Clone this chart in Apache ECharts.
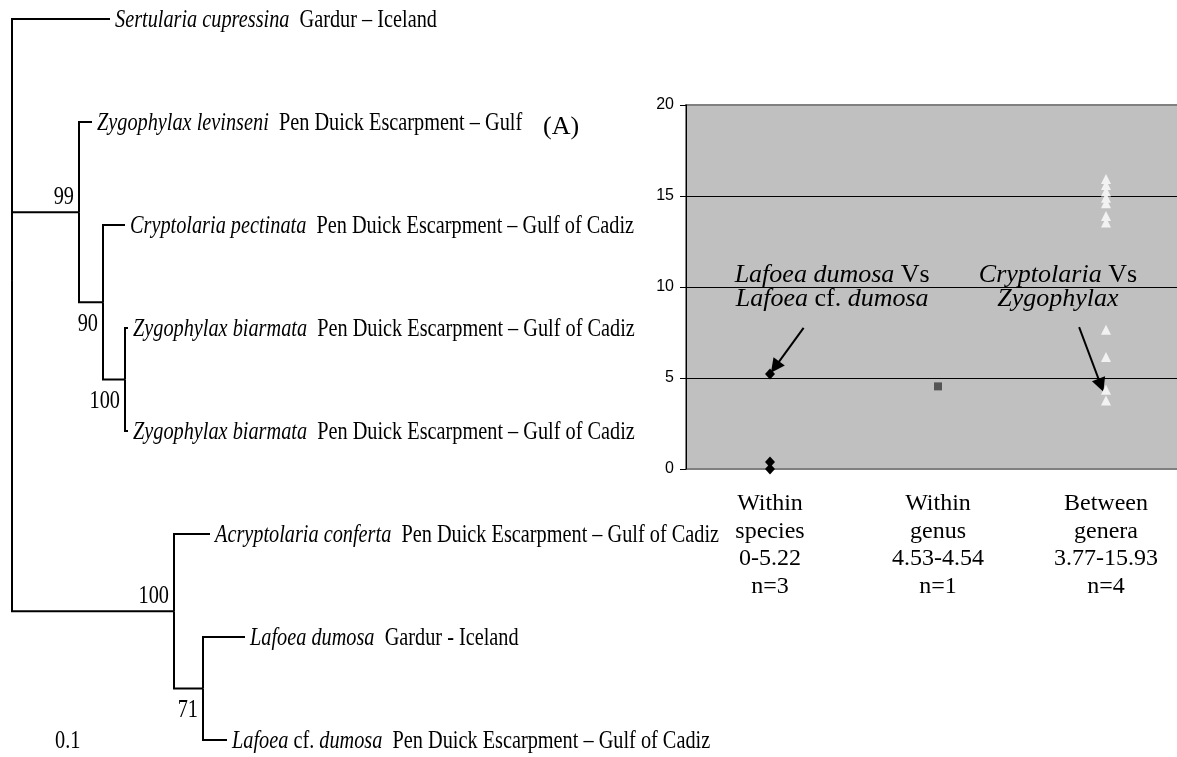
<!DOCTYPE html>
<html><head><meta charset="utf-8">
<script src="https://cdn.jsdelivr.net/npm/echarts@6/dist/echarts.min.js"></script>
<style>html,body{margin:0;padding:0;background:#fff}#c{width:1177px;height:757px}</style>
</head><body><div id="c"></div>
<script>
// ---------------- Tree data ----------------
const nodeIds       = ['root','Sert','n99','Zlev','n90','Cpec','n100a','Zb1','Zb2','n100b','Acon','n71','Ldum','Lcf'];
const nodeParents   = [null,'root','root','n99','n99','n90','n90','n100a','n100a','root','n100b','n100b','n71','n71'];
const branchLengths = [0,0.245,0.1675,0.0325,0.06,0.055,0.055,0.0075,0.0075,0.405,0.09,0.0725,0.105,0.06];
const nodeSpecies   = [null,'Sertularia cupressina',null,'Zygophylax levinseni',null,'Cryptolaria pectinata',null,'Zygophylax biarmata','Zygophylax biarmata',null,'Acryptolaria conferta',null,'Lafoea dumosa','Lafoea cf. dumosa'];
const nodeLocality  = [null,'Gardur – Iceland',null,'Pen Duick Escarpment – Gulf',null,'Pen Duick Escarpment – Gulf of Cadiz',null,'Pen Duick Escarpment – Gulf of Cadiz','Pen Duick Escarpment – Gulf of Cadiz',null,'Pen Duick Escarpment – Gulf of Cadiz',null,'Gardur - Iceland','Pen Duick Escarpment – Gulf of Cadiz'];
const nodeSupport   = [null,null,99,null,90,null,100,null,null,100,null,71,null,null];
const scaleLabel    = '0.1';
const panelLabel    = '(A)';

// ---------------- Scatter data ----------------
const categories     = ['Within species','Within genus','Between genera'];
const categoryRanges = ['0-5.22','4.53-4.54','3.77-15.93'];
const categoryCounts = ['n=3','n=1','n=4'];
const withinSpecies  = [5.22, 0.38, 0];
const withinGenus    = [4.54];
const betweenGenera  = [15.93,15.6,15.25,14.9,14.6,13.9,13.55,7.65,6.15,4.35,3.77];
const yMin = 0, yMax = 20, yInterval = 5;

// annotations (data coordinates on a hidden value x-axis where categories sit at 0,1,2)
const annotationTexts   = [
  '{i|Lafoea dumosa} {r|Vs}\n{i|Lafoea} {r|cf.} {i|dumosa}',
  '{i|Cryptolaria} {r|Vs}\n{i|Zygophylax}'
];
const annotationAnchors = [[0.37, 10], [1.714, 10]];
const arrowFrom = [[0.2, 7.75], [1.84, 7.8]];
const arrowTo   = [[0.03, 5.6], [1.97, 4.6]];

// ---------------- Tree layout from data ----------------
const N = nodeIds.length;
const idx = {}; nodeIds.forEach((id,i)=>idx[id]=i);
const children = nodeIds.map(()=>[]);
nodeParents.forEach((p,i)=>{ if(p!==null) children[idx[p]].push(i); });
const depth = new Array(N).fill(0);
(function d(i){ children[i].forEach(c=>{ depth[c]=depth[i]+branchLengths[c]; d(c); }); })(0);
const ypos = new Array(N).fill(0);
let tipCount = 0;
(function lay(i){
  if(children[i].length===0){ ypos[i]=tipCount++; return; }
  children[i].forEach(lay);
  ypos[i] = children[i].reduce((s,c)=>s+ypos[c],0)/children[i].length;
})(0);
const edges = [];
for(let i=1;i<N;i++){
  const p = idx[nodeParents[i]];
  edges.push({coords:[[depth[p],ypos[p]],[depth[p],ypos[i]],[depth[i],ypos[i]]]});
}
const tipData = [], supData = [];
for(let i=0;i<N;i++){
  if(nodeSpecies[i]) tipData.push([depth[i],ypos[i],i]);
  if(nodeSupport[i]!==null) supData.push([depth[i],ypos[i],i]);
}
const supportBelow = {n90:true,n100a:true,n71:true};

function speciesRich(name){
  return name.split(' ').map(w=> w==='cf.' ? '{r|'+w+'}' : '{i|'+w+'}').join('{r| }');
}
const SERIF = '"Liberation Serif", "Times New Roman", serif';
const treeRich = {
  i:{fontStyle:'italic',fontSize:26,fontFamily:SERIF,fill:'#000'},
  r:{fontStyle:'normal',fontSize:26,fontFamily:SERIF,fill:'#000'}
};
const COND = 0.78;

const chart = echarts.init(document.getElementById('c'), null, {renderer:'canvas'});
chart.setOption({
  animation:false,
  backgroundColor:'#fff',
  grid:[
    {left:12, top:19, width:400, height:721, show:false, outerBoundsMode:'none', containLabel:false},
    {left:686, top:105, width:504, height:364, show:true, backgroundColor:'#c0c0c0', borderColor:'#808080', borderWidth:2,
      outerBoundsMode:'none', containLabel:false}
  ],
  xAxis:[
    {type:'value', gridIndex:0, min:0, max:1, show:false},
    {type:'category', gridIndex:1, data:categories, boundaryGap:true,
      axisLine:{show:false}, axisTick:{show:false}, splitLine:{show:false},
      axisLabel:{interval:0, margin:21, color:'#000', fontFamily:SERIF, fontSize:24, lineHeight:27.5, align:'center',
        formatter:(v,i)=> v.split(' ').join('\n')+'\n'+categoryRanges[i]+'\n'+categoryCounts[i]}},
    {type:'value', gridIndex:1, min:-0.5, max:2.5, show:false}
  ],
  yAxis:[
    {type:'value', gridIndex:0, min:0, max:7, inverse:true, show:false},
    {type:'value', gridIndex:1, min:yMin, max:yMax, interval:yInterval,
      axisLine:{show:true, onZero:false, lineStyle:{color:'#000', width:1}},
      axisTick:{show:true, inside:false, length:6, lineStyle:{color:'#000'}},
      axisLabel:{color:'#000', fontFamily:'"Liberation Sans", Arial, sans-serif', fontSize:16, margin:12},
      splitLine:{show:true, showMinLine:false, showMaxLine:false, lineStyle:{color:'#000', width:1}}}
  ],
  graphic:[
    {type:'text', left:543, top:114, style:{text:panelLabel, font:'26px '+SERIF, fill:'#000'}},
    {type:'text', x:55, y:741, scaleX:COND, style:{text:scaleLabel, font:'26px '+SERIF, fill:'#000', verticalAlign:'middle'}}
  ],
  series:[
    {type:'lines', coordinateSystem:'cartesian2d', xAxisIndex:0, yAxisIndex:0, polyline:true, silent:true,
      lineStyle:{color:'#000', width:2, opacity:1}, data:edges},
    {type:'custom', coordinateSystem:'cartesian2d', xAxisIndex:0, yAxisIndex:0, clip:false, silent:true,
      data:tipData,
      renderItem:(params,api)=>{
        const p = api.coord([api.value(0), api.value(1)]);
        const i = api.value(2);
        return {type:'text', x:p[0]+5, y:p[1]+1, scaleX:COND,
          style:{text:speciesRich(nodeSpecies[i])+'{r|  '+nodeLocality[i]+'}', rich:treeRich,
            font:'26px '+SERIF, verticalAlign:'middle', align:'left', fill:'#000'}};
      }},
    {type:'custom', coordinateSystem:'cartesian2d', xAxisIndex:0, yAxisIndex:0, clip:false, silent:true,
      data:supData,
      renderItem:(params,api)=>{
        const p = api.coord([api.value(0), api.value(1)]);
        const i = api.value(2);
        const below = !!supportBelow[nodeIds[i]];
        return {type:'text', x:p[0]-5, y: below ? p[1]+9 : p[1]-2, scaleX:COND,
          style:{text:String(nodeSupport[i]), font:'26px '+SERIF, fill:'#000', align:'right',
            verticalAlign: below ? 'top' : 'bottom'}};
      }},
    {type:'scatter', name:'Within species', xAxisIndex:1, yAxisIndex:1, symbol:'diamond', symbolSize:[10,11],
      itemStyle:{color:'#000', opacity:1}, data:withinSpecies.map(v=>[0,v])},
    {type:'scatter', name:'Within genus', xAxisIndex:1, yAxisIndex:1, symbol:'rect', symbolSize:8,
      itemStyle:{color:'#555', opacity:1}, data:withinGenus.map(v=>[1,v])},
    {type:'scatter', name:'Between genera', xAxisIndex:1, yAxisIndex:1, symbol:'triangle', symbolSize:[10,10],
      itemStyle:{color:'#f2f2f2', opacity:1}, data:betweenGenera.map(v=>[2,v])},
    {type:'lines', coordinateSystem:'cartesian2d', xAxisIndex:2, yAxisIndex:1, silent:true,
      symbol:['none','triangle'], symbolSize:14,
      lineStyle:{color:'#000', width:2, opacity:1},
      itemStyle:{color:'#000'},
      data:arrowFrom.map((f,k)=>({coords:[f, arrowTo[k]]}))},
    {type:'custom', coordinateSystem:'cartesian2d', xAxisIndex:2, yAxisIndex:1, clip:false, silent:true,
      data:annotationAnchors.map((a,k)=>[a[0],a[1],k]),
      renderItem:(params,api)=>{
        const p = api.coord([api.value(0), api.value(1)]);
        const k = api.value(2);
        return {type:'text', x:p[0], y:p[1],
          style:{text:annotationTexts[k], align:'center', verticalAlign:'middle', lineHeight:24,
            font:'26px '+SERIF, fill:'#000',
            rich:{i:{fontStyle:'italic',fontSize:26,fontFamily:SERIF,fill:'#000',lineHeight:24},
                  r:{fontStyle:'normal',fontSize:26,fontFamily:SERIF,fill:'#000',lineHeight:24}}}};
      }}
  ]
});
</script></body></html>
